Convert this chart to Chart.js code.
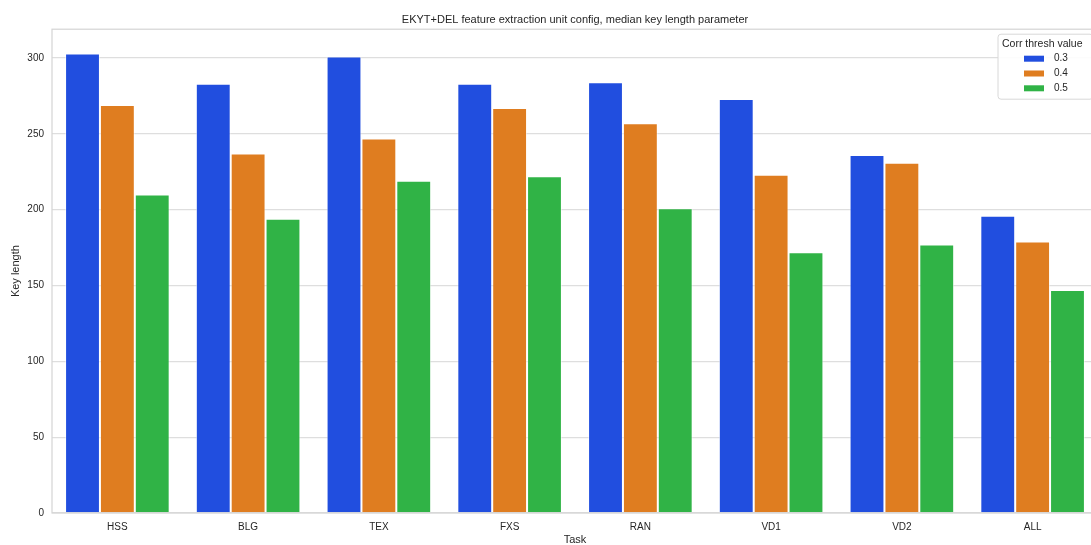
<!DOCTYPE html>
<html>
<head>
<meta charset="utf-8">
<script src="https://cdn.jsdelivr.net/npm/chart.js@4.4.0/dist/chart.umd.min.js"></script>
<style>
  html, body { margin:0; padding:0; background:#fff; overflow:hidden; }
  #wrap { position:relative; width:1110px; height:545px; }
</style>
</head>
<body>
<div id="wrap"><canvas id="chartKeyLen"></canvas></div>
<script>
// ==================== Datos ====================
const tareas   = ["HSS","BLG","TEX","FXS","RAN","VD1","VD2","ALL"];
const umbrales = ["0.3","0.4","0.5"];
const largo03  = [303,283,301,283,284,273,236,196];
const largo04  = [269,237,247,267,257,223,231,179];
const largo05  = [210,194,219,222,201,172,177,147];
const ticksY   = [0,50,100,150,200,250,300];
const colores  = ["#214edf","#df7d20","#30b346"];

const TXT = "#262626";
const FONT = "Arial, 'Liberation Sans', sans-serif";
Chart.defaults.font.family = FONT;
Chart.defaults.color = TXT;

// Bordes tipo seaborn (los 4 lados del área)
const spines = {
  id: "spines",
  afterDatasetsDraw(chart){
    const {ctx, chartArea:a} = chart;
    ctx.save();
    ctx.strokeStyle = "#d4d4d4";
    ctx.lineWidth = 1.2;
    ctx.strokeRect(a.left, a.top, a.right - a.left, a.bottom - a.top);
    ctx.restore();
  }
};

// Leyenda dentro del área, arriba a la derecha
const leyenda = {
  id: "leyenda",
  afterDraw(chart){
    const {ctx, chartArea:a} = chart;
    const x0 = a.right - 100, y0 = a.top + 5, w = 95, h = 65, r = 3;
    ctx.save();
    ctx.beginPath();
    ctx.moveTo(x0 + r, y0);
    ctx.arcTo(x0 + w, y0, x0 + w, y0 + h, r);
    ctx.arcTo(x0 + w, y0 + h, x0, y0 + h, r);
    ctx.arcTo(x0, y0 + h, x0, y0, r);
    ctx.arcTo(x0, y0, x0 + w, y0, r);
    ctx.closePath();
    ctx.fillStyle = "rgba(255,255,255,0.9)";
    ctx.fill();
    ctx.strokeStyle = "#d8d8d8";
    ctx.lineWidth = 1;
    ctx.stroke();

    ctx.textBaseline = "middle";
    ctx.textAlign = "left";
    ctx.font = "10.5px " + FONT;
    ctx.fillStyle = TXT;
    ctx.fillText("Corr thresh value", x0 + 4, y0 + 9.5);
    ctx.font = "10px " + FONT;
    chart.data.datasets.forEach((ds, i) => {
      const cy = y0 + 24.5 + i * 14.8;
      ctx.fillStyle = ds.backgroundColor;
      ctx.fillRect(x0 + 26, cy - 3, 20, 6);
      ctx.fillStyle = TXT;
      ctx.fillText(ds.label, x0 + 56, cy);
    });
    ctx.restore();
  }
};

const series = [largo03, largo04, largo05];

new Chart(document.getElementById("chartKeyLen").getContext("2d"), {
  type: "bar",
  data: {
    labels: tareas,
    datasets: umbrales.map((u, i) => ({
      label: u,
      data: series[i],
      backgroundColor: colores[i],
      borderColor: "rgba(255,255,255,0.55)",
      borderWidth: 1,
      barPercentage: 1,
      categoryPercentage: 0.8
    }))
  },
  options: {
    responsive: true,
    maintainAspectRatio: false,
    animation: false,
    layout: { padding: { left: 0, right: 12, top: 0, bottom: 0 } },
    plugins: {
      legend: { display: false },
      tooltip: { enabled: false },
      title: {
        display: true,
        fullSize: false,
        text: "EKYT+DEL feature extraction unit config, median key length parameter",
        color: TXT,
        font: { size: 11, weight: "normal", lineHeight: 1.2 },
        padding: { top: 13, bottom: 3 }
      }
    },
    scales: {
      x: {
        grid: { display: false, drawTicks: false },
        border: { display: false },
        ticks: { color: TXT, font: { size: 10 }, padding: 8, maxRotation: 0 },
        title: { display: true, text: "Task", color: TXT, font: { size: 11, lineHeight: 1 }, padding: { top: 0, bottom: 0 } },
        afterFit(s){ s.height = 32; }
      },
      y: {
        min: 0,
        max: 319,
        grid: { color: "#dedede", lineWidth: 1.3, drawTicks: false },
        border: { display: false },
        ticks: { color: TXT, font: { size: 10 }, padding: 8, includeBounds: false },
        afterBuildTicks(s){ s.ticks = ticksY.map(v => ({ value: v })); },
        title: { display: true, text: "Key length", color: TXT, font: { size: 11, lineHeight: 1.2 }, padding: { top: 9, bottom: 0 } },
        afterFit(s){ s.width = 52; }
      }
    }
  },
  plugins: [spines, leyenda]
});
</script>
</body>
</html>
